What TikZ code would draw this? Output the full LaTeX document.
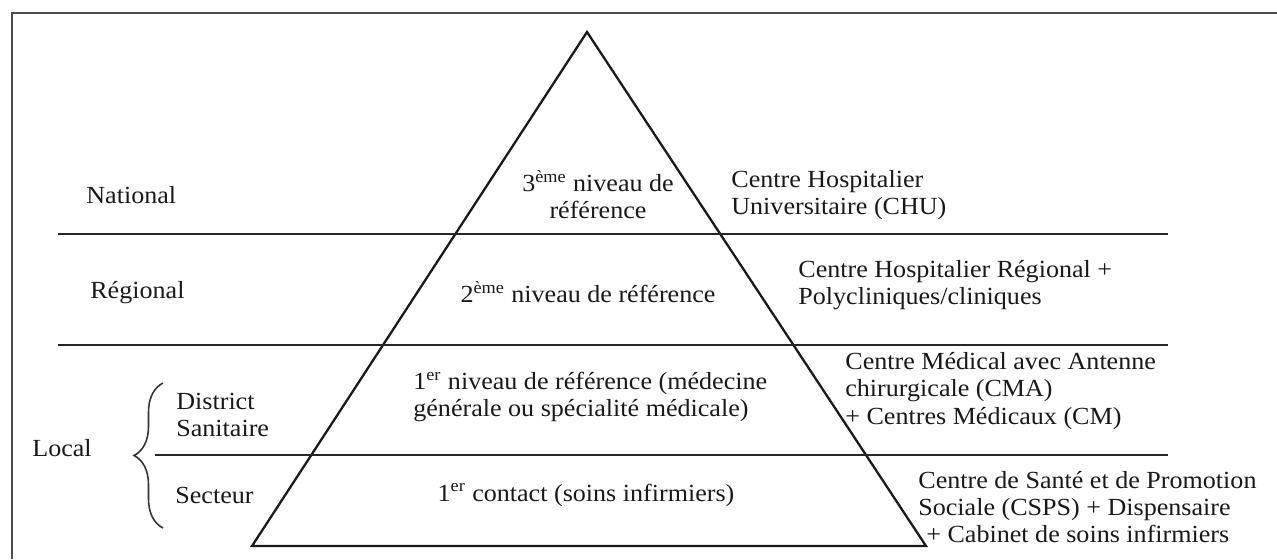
\documentclass[tikz,border=0pt]{standalone}
\usepackage{fontspec}
\setmainfont{Liberation Serif}[FakeStretch=1.06]
\usepackage{tikz}
\usetikzlibrary{decorations.pathreplacing}

\begin{document}
\begin{tikzpicture}[x=0.02cm, y=-0.02cm, font=\fontsize{14}{15.4}\selectfont,
  lbl/.style={inner sep=0pt, align=center, text=black!90},
  inst/.style={inner sep=0pt, anchor=west, align=left, text=black!90},
  sep/.style={line width=1.2pt, draw=black!85},
  tri/.style={line width=1.3pt, line join=miter, draw=black!90},
  brc/.style={decorate, decoration={brace, amplitude=0.58cm}, line width=0.9pt, draw=black!80}]
\useasboundingbox (0,0) rectangle (1277,559);
% outer frame
\coordinate (fb) at (12,559); \coordinate (fc) at (12,13); \coordinate (fr) at (1277,13);
\draw[line width=1.6pt, draw=black!70] (fb) -- (fc) -- (fr);
% pyramid
\coordinate (apex) at (587,32);
\coordinate (bl) at (252,546);
\coordinate (br) at (926,546);
\draw[tri] (apex) -- (bl) -- (br) -- cycle;
% level separators
\coordinate (s1a) at (58,234);  \coordinate (s1b) at (1168,234);
\coordinate (s2a) at (58,345);  \coordinate (s2b) at (1168,345);
\coordinate (s3a) at (155,455); \coordinate (s3b) at (1168,455);
\draw[sep] (s1a) -- (s1b);
\draw[sep] (s2a) -- (s2b);
\draw[sep] (s3a) -- (s3b);
% left: levels
\node[inst] (nat) at (86,195) {National};
\node[inst] (reg) at (90,293) {Régional};
\node[inst] (dis) at (176,415) {District\\Sanitaire};
\node[inst] (sec) at (175,495) {Secteur};
\node[inst] (loc) at (32,448) {Local};
\coordinate (bb) at (163,528); \coordinate (bt) at (163,383);
\draw[brc] (bb) -- (bt);
% inside the pyramid
\node[lbl] (n3) at (598,195) {3\textsuperscript{ème} niveau de\\référence};
\node[lbl] (n2) at (588,292) {2\textsuperscript{ème} niveau de référence};
\node[inst] (n1) at (413,397) {1\textsuperscript{er} niveau de référence (médecine\\générale ou spécialité médicale)};
\node[lbl] (n0) at (586,495) {1\textsuperscript{er} contact (soins infirmiers)};
% right: facilities
\node[inst] (chu) at (731,195) {Centre Hospitalier\\Universitaire (CHU)};
\node[inst] (chr) at (798,285) {Centre Hospitalier Régional +\\Polycliniques/cliniques};
\node[inst] (cma) at (845,391) {Centre Médical avec Antenne\\chirurgicale (CMA)\\+ Centres Médicaux (CM)};
\node[inst] (csps) at (918,507) {Centre de Santé et de Promotion\\Sociale (CSPS) + Dispensaire\\\hspace{0.16cm}+ Cabinet de soins infirmiers};
\end{tikzpicture}
\end{document}
